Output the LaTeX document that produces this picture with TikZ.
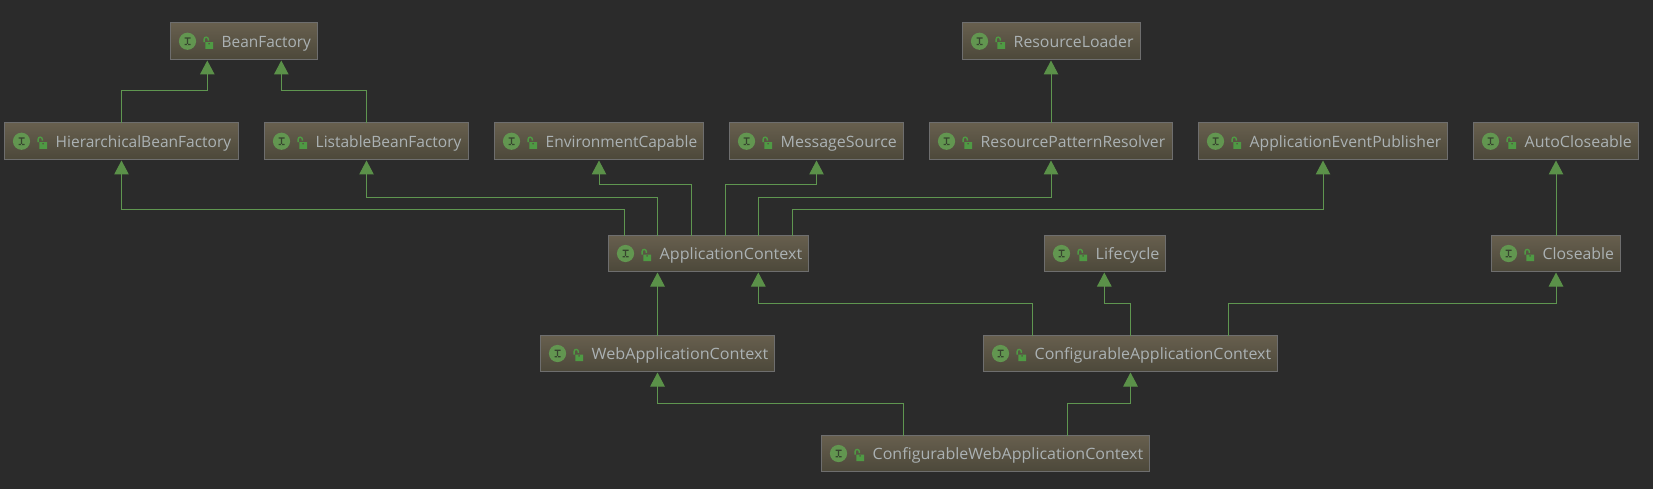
\documentclass[tikz,border=0pt]{standalone}
\usepackage{fontspec}
\usepackage{graphicx}
\setmainfont{Open Sans}
\usetikzlibrary{arrows.meta,calc}
\definecolor{bgc}{HTML}{2B2B2B}
\definecolor{boxtop}{HTML}{675F4E}
\definecolor{boxbot}{HTML}{4C483A}
\definecolor{boxline}{HTML}{6E6E6E}
\definecolor{greenl}{HTML}{5F9650}
\definecolor{greena}{HTML}{5B9149}
\definecolor{iconc}{HTML}{629650}
\definecolor{iconi}{HTML}{37452F}
\definecolor{lockc}{HTML}{4F9A44}
\definecolor{txt}{HTML}{ABB2B4}
\tikzset{
  x=1pt,y=-1pt,
  ibox/.style={rectangle,draw=boxline,line width=1pt,top color=boxtop,bottom color=boxbot,inner sep=0pt,outer sep=0pt},
  ilabel/.style={anchor=base west,inner sep=0pt,text=txt,font=\fontsize{15.6}{18}\selectfont},
  inh/.style={draw=greenl,line width=1pt,shorten >=1pt,-{Triangle[length=14pt,width=14.5pt,fill=greena,color=greena]}},
}
% name, left, top, right, bottom, text, text width
\newcommand{\ifacebox}[7]{%
  \node[ibox,minimum width=#4-#2,minimum height=#5-#3] (#1) at ({(#2+#4)/2},{(#3+#5)/2}) {};
  \fill[iconc] ([xshift=17pt]#1.west) circle (8.6pt);
  \fill[iconi] ([xshift=14pt,yshift=3.8pt]#1.west) rectangle ++(6,1.2)
               ([xshift=14pt,yshift=-3.8pt]#1.west) rectangle ++(6,-1.2)
               ([xshift=16.3pt,yshift=3.8pt]#1.west) rectangle ++(1.4,7.6);
  \draw[lockc,line width=1.4pt] ([xshift=33.6pt,yshift=-1pt]#1.west) -- ++(0,-3) arc[start angle=180,end angle=0,radius=2.1pt] -- ++(0,1.4);
  \fill[lockc,even odd rule] ([xshift=34.8pt,yshift=-1pt]#1.west) rectangle ++(7.7,6.7)
       ([xshift=37.9pt,yshift=-1.7pt]#1.west) rectangle ++(1.5,1.5);
  \node[ilabel] (#1-t) at ([xshift=51pt,yshift=-6.2pt]#1.west) {\resizebox{#7pt}{\height}{#6}};
}
\begin{document}
\begin{tikzpicture}
\useasboundingbox[fill=bgc] (0,0) rectangle (1653,489);
\ifacebox{bf}{170.5}{23}{317.5}{59.5}{BeanFactory}{89.2}
\ifacebox{rl}{962.5}{23}{1140.5}{59.5}{ResourceLoader}{119.8}
\ifacebox{hbf}{4.5}{123}{238.5}{159.5}{HierarchicalBeanFactory}{175.5}
\ifacebox{lbf}{264.5}{123}{468.5}{159.5}{ListableBeanFactory}{145.8}
\ifacebox{ec}{494.5}{123}{703.5}{159.5}{EnvironmentCapable}{151.5}
\ifacebox{ms}{729.5}{123}{903.5}{159.5}{MessageSource}{116.2}
\ifacebox{rpr}{929.5}{123}{1172.5}{159.5}{ResourcePatternResolver}{184.5}
\ifacebox{aep}{1198.5}{123}{1447.5}{159.5}{ApplicationEventPublisher}{191.5}
\ifacebox{acl}{1473.5}{123}{1638.5}{159.5}{AutoCloseable}{107.2}
\ifacebox{ac}{608.5}{235.5}{808.5}{271.5}{ApplicationContext}{142.5}
\ifacebox{lc}{1044.5}{235.5}{1165.5}{271.5}{Lifecycle}{63.8}
\ifacebox{cl}{1491.5}{235.5}{1620.5}{271.5}{Closeable}{71.2}
\ifacebox{wac}{540.5}{335.5}{774.5}{371.5}{WebApplicationContext}{176.5}
\ifacebox{cac}{983.5}{335.5}{1277.5}{371.5}{ConfigurableApplicationContext}{236.5}
\ifacebox{cwac}{821.5}{435.5}{1149.5}{471.5}{ConfigurableWebApplicationContext}{270.5}
% top group
\draw[inh] (hbf.north) -- ++(0,-32) -| ([xshift=-36.7pt]bf.south);
\draw[inh] (lbf.north) -- ++(0,-32) -| ([xshift=37.3pt]bf.south);
\draw[inh] (rpr.north) -- (rpr.north |- rl.south);
\draw[inh] (cl.north) -- (cl.north |- acl.south);
% ApplicationContext parents
\draw[inh] ([xshift=-84.2pt]ac.north) -- ++(0,-26.2) -| (hbf.south);
\draw[inh] ([xshift=-51.2pt]ac.north) -- ++(0,-37.8) -| (lbf.south);
\draw[inh] ([xshift=-16.8pt]ac.north) -- ++(0,-51.2) -| (ec.south);
\draw[inh] ([xshift=16.8pt]ac.north) -- ++(0,-51.2) -| (ms.south);
\draw[inh] ([xshift=49.8pt]ac.north) -- ++(0,-37.8) -| (rpr.south);
\draw[inh] ([xshift=83.8pt]ac.north) -- ++(0,-26.2) -| (aep.south);
% lower group
\draw[inh] (wac.north) -- (wac.north |- ac.south);
\draw[inh] ([xshift=-98.2pt]cac.north) -- ++(0,-32) -| ([xshift=49.8pt]ac.south);
\draw[inh] ([xshift=0.2pt]cac.north) -- ++(0,-32) -| ([xshift=-0.7pt]lc.south);
\draw[inh] ([xshift=97.8pt]cac.north) -- ++(0,-32) -| (cl.south);
\draw[inh] ([xshift=-82.2pt]cwac.north) -- ++(0,-32) -| (wac.south);
\draw[inh] ([xshift=81.8pt]cwac.north) -- ++(0,-32) -| (cac.south);
\end{tikzpicture}
\end{document}
